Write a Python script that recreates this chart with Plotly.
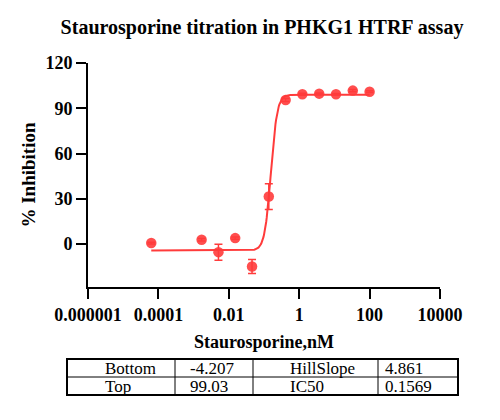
import numpy as np
import plotly.graph_objects as go

# Data
conc = [6.27e-5, 1.69e-3, 5.08e-3, 0.0152, 0.0457, 0.137, 0.412, 1.23, 3.70, 11.1, 33.3, 100]
inhib = [0.7, 2.9, -5.3, 4.0, -14.8, 31.5, 95.5, 99.3, 99.7, 99.3, 101.7, 101.0]
err = [0.6, 0.8, 5.3, 0.8, 4.7, 8.5, 1.0, 0.6, 0.5, 0.5, 0.8, 0.6]

# Fit parameters (from table)
param_names = ["Bottom", "Top", "HillSlope", "IC50"]
bottom, top, hill, ic50 = -4.207, 99.03, 4.861, 0.1569
param_text = ["-4.207", "99.03", "4.861", "0.1569"]

xtick_vals = [1e-6, 1e-4, 1e-2, 1, 100, 1e4]
xtick_text = ["0.000001", "0.0001", "0.01", "1", "100", "10000"]
ytick_vals = [0, 30, 60, 90, 120]

red = "#ff3b3b"
serif = "Liberation Serif, Times New Roman, serif"

xf = np.logspace(np.log10(conc[0]), np.log10(conc[-1]), 400)
yf = bottom + (top - bottom) / (1 + 10 ** ((np.log10(ic50) - np.log10(xf)) * hill))

fig = go.Figure()
fig.add_trace(go.Scatter(x=xf, y=yf, mode="lines", line=dict(color=red, width=2),
                         hoverinfo="skip", showlegend=False))
fig.add_trace(go.Scatter(x=conc, y=inhib, mode="markers",
                         marker=dict(color=red, size=10.5, opacity=0.9),
                         error_y=dict(type="data", array=err, color=red, thickness=1.5, width=4),
                         showlegend=False))

OFF = 8  # page body margin in the browser
W, H = 500 - OFF, 420 - OFF
L, R, T, B = 88 - OFF, 440 - OFF, 63 - OFF, 287 - OFF
pw, ph = R - L, B - T

def px(x):
    return (x - OFF - L) / pw

def py(y):
    return (B - (y - OFF)) / ph

bold = dict(family=serif, color="black", weight="bold")

fig.update_layout(
    width=W, height=H,
    margin=dict(l=L, r=W - R, t=T, b=H - B, autoexpand=False),
    paper_bgcolor="white", plot_bgcolor="white",
    font=dict(family=serif, color="black"),
    title=dict(text="Staurosporine titration in PHKG1 HTRF assay", automargin=False,
               x=(262 - OFF) / W, xanchor="center", y=1 - (27 - OFF) / H, yanchor="middle",
               font=dict(bold, size=20)),
    xaxis=dict(type="log", range=[-6, 4], tickvals=xtick_vals, ticktext=xtick_text, automargin=False,
               showgrid=False, zeroline=False, showline=True, linecolor="black", linewidth=2,
               ticks="outside", ticklen=10, tickwidth=2, tickcolor="black",
               tickfont=dict(bold, size=18),
               title=dict(text="Staurosporine,nM", font=dict(bold, size=18), standoff=12)),
    yaxis=dict(range=[-28.4, 120], tickvals=ytick_vals, automargin=False,
               showgrid=False, zeroline=False, showline=True, linecolor="black", linewidth=2,
               ticks="outside", ticklen=10, tickwidth=2, tickcolor="black",
               tickfont=dict(bold, size=18),
               title=dict(text="% Inhibition", font=dict(bold, size=19), standoff=5)),
)

# Table
tx0, tx1, ty0, tym, ty1 = 67, 458, 359, 377, 395
cols = [175, 253, 378]
shapes = []
shapes.append(dict(type="rect", xref="paper", yref="paper", x0=px(tx0), x1=px(tx1), y0=py(ty0), y1=py(ty1),
                   line=dict(color="black", width=2)))
shapes.append(dict(type="line", xref="paper", yref="paper", x0=px(tx0), x1=px(tx1), y0=py(tym), y1=py(tym),
                   line=dict(color="black", width=1)))
for c in cols:
    shapes.append(dict(type="line", xref="paper", yref="paper", x0=px(c), x1=px(c), y0=py(ty0), y1=py(ty1),
                       line=dict(color="black", width=1)))
fig.update_layout(shapes=shapes)

cells = [
    (104, (ty0 + tym) / 2, param_names[0]), (189, (ty0 + tym) / 2, param_text[0]),
    (289, (ty0 + tym) / 2, param_names[2]), (384, (ty0 + tym) / 2, param_text[2]),
    (104, (tym + ty1) / 2, param_names[1]), (189, (tym + ty1) / 2, param_text[1]),
    (289, (tym + ty1) / 2, param_names[3]), (384, (tym + ty1) / 2, param_text[3]),
]
for x, y, t in cells:
    fig.add_annotation(x=px(x), y=py(y), xref="paper", yref="paper", text=t, showarrow=False,
                       xanchor="left", yanchor="middle", xshift=-1, font=dict(family=serif, size=17, color="black"))

fig.write_html("out.html")
